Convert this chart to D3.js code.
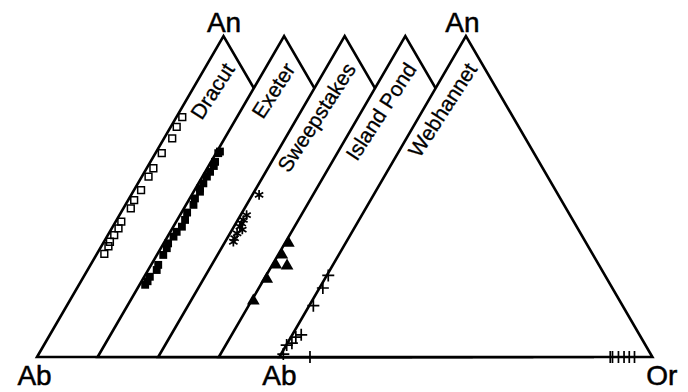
<!DOCTYPE html>
<html>
<head>
<meta charset="utf-8">
<script src="https://cdn.jsdelivr.net/npm/d3@7"></script>
<style>
  body { margin: 0; background: #fff; }
  svg { display: block; font-family: "Liberation Sans", Arial, sans-serif; }
  .tri { fill: #fff; stroke: #000; stroke-width: 2.6; stroke-linejoin: miter; }
  .corner { font-size: 28px; fill: #000; stroke: #000; stroke-width: 0.5; }
  .name { font-size: 21px; fill: #000; stroke: #000; stroke-width: 0.3; }
</style>
</head>
<body>
<svg id="chart" width="688" height="392"></svg>
<script>
// plutons, one ternary diagram each, stacked left to right
var plutons = ["Dracut", "Exeter", "Sweepstakes", "Island Pond", "Webhannet"];

// feldspar analyses as [An %, Or %] (Ab is the rest)
var dracut = [[74.7, 1.6], [71.7, 1.6], [68.1, 2.2], [63.5, 1.7], [58.8, 1.8], [56.2, 1.8],
  [52.0, 1.9], [48.9, 1.6], [46.3, 2.0], [42.2, 1.5], [40.1, 1.8], [38.0, 1.7],
  [35.9, 1.6], [34.5, 1.9], [32.1, 2.0]];
var exeter = [[64.0, 0.8], [63.5, 0.6], [60.8, 1.1], [59.5, 1.4], [57.7, 1.3], [56.2, 1.2],
  [54.1, 1.3], [52.5, 1.2], [51.5, 1.7], [49.4, 1.4], [47.4, 2.0], [45.0, 1.5],
  [42.7, 2.1], [40.6, 2.3], [39.0, 1.7], [37.5, 1.6], [35.4, 1.2], [33.9, 1.6],
  [31.8, 1.7], [28.7, 1.9], [27.1, 2.3], [25.0, 1.5], [23.6, 1.6], [22.5, 1.5]];
var sweepstakes = [[50.5, 1.8], [44.2, 1.6], [42.7, 1.5], [41.6, 1.6], [40.6, 1.6],
  [39.7, 2.7], [38.5, 1.9], [37.0, 2.0], [35.9, 2.2]];
var islandPond = [[35.5, 0.9], [31.8, 1.0], [28.7, 0.9], [28.4, 4.1], [24.3, 0.7], [17.5, 0.5]];
var webhannet = [[25.4, 0.4], [21.5, 0.9], [16.0, 1.1], [6.9, 2.4], [6.2, 1.3], [4.3, 1.2],
  [3.7, 0.1], [0.9, 0.6], [0.0, 8.2],
  [0.0, 88.7], [0.0, 89.3], [0.0, 90.9], [0.0, 92.4], [0.0, 93.8], [0.0, 95.2]];

var samples = [dracut, exeter, sweepstakes, islandPond, webhannet];
var markers = ["openSquare", "filledSquare", "asterisk", "triangle", "plus"];

var svg = d3.select("#chart");

var sideLen = 373;
var x0 = d3.scaleLinear().domain([0, plutons.length - 1]).range([37, 279.4]);
var yAn = d3.scaleLinear().domain([0, 100]).range([357, 36]);
var xComp = d3.scaleLinear().domain([0, 100]).range([0, sideLen]);

function project(i, an, or) {
  return [x0(i) + xComp(or + an / 2), yAn(an)];
}

function markerPath(kind) {
  if (kind == "openSquare") return d3.symbol(d3.symbolSquare, 46)();
  if (kind == "filledSquare") return d3.symbol(d3.symbolSquare, 62)();
  if (kind == "triangle") return d3.symbol(d3.symbolTriangle, 70)();
  if (kind == "plus") return "M-6,0H6M0,-6V6";
  // asterisk, three crossing strokes
  var p = d3.path(), r = 4.8;
  for (var k = 0; k < 3; k++) {
    var a = Math.PI / 2 + k * Math.PI / 3;
    p.moveTo(-r * Math.cos(a), -r * Math.sin(a));
    p.lineTo(r * Math.cos(a), r * Math.sin(a));
  }
  return p.toString();
}

function markerStyle(sel, kind) {
  if (kind == "openSquare") sel.attr("fill", "none").attr("stroke", "#000").attr("stroke-width", 1.5);
  else if (kind == "filledSquare" || kind == "triangle") sel.attr("fill", "#000").attr("stroke", "none");
  else sel.attr("fill", "none").attr("stroke", "#000").attr("stroke-width", 1.7);
}

for (var i = 0; i < plutons.length; i++) {
  var ab = project(i, 0, 0), an = project(i, 100, 0), or = project(i, 0, 100);
  var g = svg.append("g");

  g.append("path")
    .attr("class", "tri")
    .attr("d", d3.line()([ab, an, or]) + "Z");

  // pluton name along the An-Ab edge, ending just below the apex
  g.append("text")
    .attr("class", "name")
    .attr("text-anchor", "end")
    .attr("transform", "translate(" + (an[0] + 12) + "," + (an[1] + 33) + ") rotate(-57)")
    .text(plutons[i]);

  var m = markers[i];
  g.selectAll(".pt")
    .data(samples[i])
    .join("path")
    .attr("class", "pt")
    .attr("d", markerPath(m))
    .attr("transform", function (d) { var p = project(i, d[0], d[1]); return "translate(" + p + ")"; })
    .call(markerStyle, m);
}

// corner labels
var first = 0, last = plutons.length - 1;
var corners = [
  { t: "An", p: project(first, 100, 0), dx: 0.5, dy: -4 },
  { t: "An", p: project(last, 100, 0), dx: -3.5, dy: -4 },
  { t: "Ab", p: project(first, 0, 0), dx: -2.5, dy: 28 },
  { t: "Ab", p: project(last, 0, 0), dx: 0, dy: 28 },
  { t: "Or", p: project(last, 0, 100), dx: 9.5, dy: 28 }
];
svg.selectAll(".corner")
  .data(corners)
  .join("text")
  .attr("class", "corner")
  .attr("text-anchor", "middle")
  .attr("x", function (d) { return d.p[0] + d.dx; })
  .attr("y", function (d) { return d.p[1] + d.dy; })
  .text(function (d) { return d.t; });
</script>
</body>
</html>
